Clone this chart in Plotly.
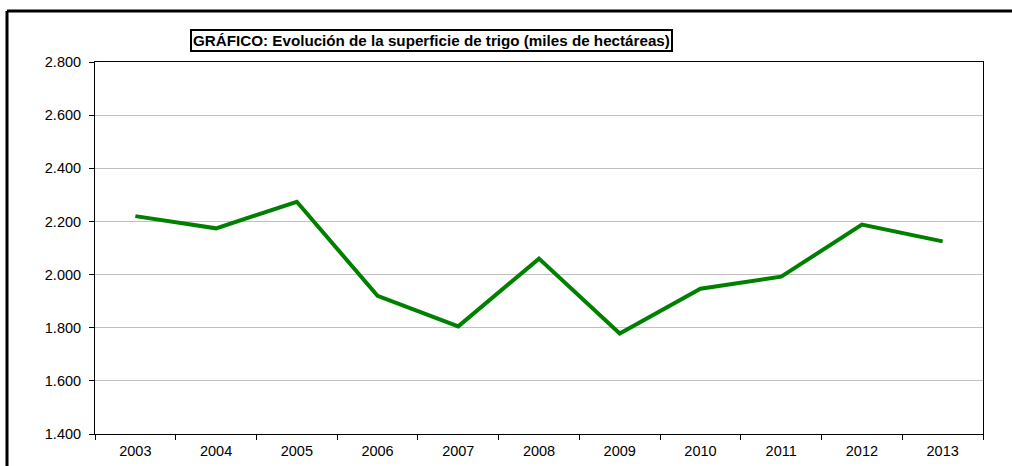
import plotly.graph_objects as go

years = ["2003", "2004", "2005", "2006", "2007", "2008", "2009", "2010", "2011", "2012", "2013"]
superficie = [2220, 2174, 2274, 1920, 1805, 2060, 1778, 1947, 1992, 2188, 2125]
y_ticks = [1400, 1600, 1800, 2000, 2200, 2400, 2600, 2800]

W, H = 1012, 466
L, R, T, B = 95, 983, 62, 434

def px(x):
    return (x - L) / (R - L)

def py(y):
    return (B - y) / (B - T)

fig = go.Figure()
fig.add_trace(go.Scatter(
    x=years, y=superficie, mode="lines",
    line=dict(color="#008000", width=4),
    hoverinfo="x+y",
))

font = "Liberation Sans, Arial, sans-serif"
fig.update_layout(
    width=W, height=H, autosize=False,
    margin=dict(l=L, r=W - R, t=T, b=H - B, autoexpand=False),
    paper_bgcolor="white", plot_bgcolor="white",
    separators=",.",
    showlegend=False,
    font=dict(family=font, size=14.5, color="black"),
    xaxis=dict(
        type="category", tickson="boundaries", ticks="outside", ticklen=5,
        tickcolor="black", showline=True, linecolor="black", linewidth=1,
        mirror=True, showgrid=False, tickfont=dict(size=14.5),
        range=[-0.5, len(years) - 0.5], ticklabelstandoff=4,
        automargin=False,
    ),
    yaxis=dict(
        range=[1400, 2800], tickvals=y_ticks, tickformat=",d",
        ticks="outside", ticklen=5, tickcolor="black",
        showline=True, linecolor="black", linewidth=1, mirror=True,
        showgrid=True, gridcolor="#c0c0c0", gridwidth=1,
        tickfont=dict(size=14.5), zeroline=False, ticklabelstandoff=5,
        automargin=False,
    ),
    annotations=[dict(
        text="<b>GRÁFICO: Evolución de la superficie de trigo (miles de hectáreas)</b>",
        xref="paper", yref="paper", x=px(431.5), y=py(40),
        xanchor="center", yanchor="middle", showarrow=False,
        font=dict(family=font, size=15.2, color="black"),
        bordercolor="black", borderwidth=2, borderpad=1, bgcolor="white",
    )],
    shapes=[
        dict(type="line", xref="paper", yref="paper",
             x0=px(7), x1=px(1012), y0=py(11), y1=py(11),
             line=dict(color="black", width=3)),
        dict(type="line", xref="paper", yref="paper",
             x0=px(7), x1=px(7), y0=py(11), y1=py(466),
             line=dict(color="black", width=3)),
    ],
)

fig.write_html(
    "out.html",
    config={"displayModeBar": False},
    post_script="document.body.style.margin='0';document.body.style.overflow='hidden';",
)
